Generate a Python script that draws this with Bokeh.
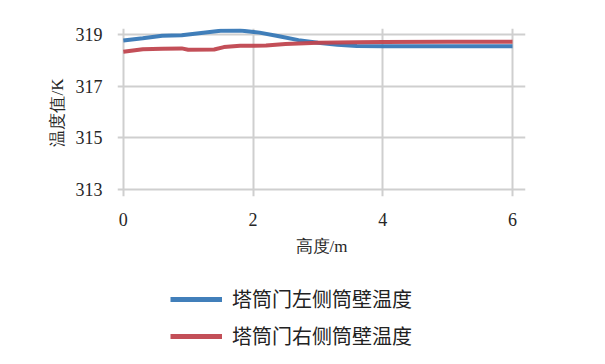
from bokeh.plotting import figure
from bokeh.layouts import column
from bokeh.models import Range1d, FixedTicker, Legend, LegendItem
from bokeh.embed import file_html
from bokeh.resources import INLINE

# Wall temperature along the tower height
height_left = [0, 0.3, 0.6, 0.9, 1.2, 1.5, 1.8, 2.1, 2.4, 2.7, 3.0, 3.3, 3.6, 4.0, 4.5, 5.0, 5.5, 6.0]
temp_left = [318.77, 318.85, 318.95, 318.97, 319.06, 319.14, 319.15, 319.07, 318.93, 318.78,
             318.68, 318.60, 318.55, 318.54, 318.54, 318.54, 318.54, 318.54]

height_right = [0, 0.3, 0.6, 0.9, 1.0, 1.4, 1.55, 1.8, 2.2, 2.5, 2.8, 3.0, 3.6, 4.0, 5.0, 6.0]
temp_right = [318.33, 318.43, 318.45, 318.46, 318.41, 318.42, 318.51, 318.56, 318.57, 318.63,
              318.66, 318.68, 318.70, 318.71, 318.72, 318.72]

x_ticks = [0, 2, 4, 6]
y_ticks = [313, 315, 317, 319]
series_names = ["塔筒门左侧筒壁温度", "塔筒门右侧筒壁温度"]
colors = ["#3778b6", "#c0464f"]

SERIF = "Times New Roman"

p = figure(width=605, height=270, output_backend="svg", toolbar_location=None,
           x_range=Range1d(-0.09, 6.2), y_range=Range1d(312.73, 319.23),
           min_border_left=117, min_border_right=80, min_border_top=28, min_border_bottom=74)
p.outline_line_color = None

for ax in (p.xaxis[0], p.yaxis[0]):
    ax.axis_line_color = None
    ax.major_tick_line_color = None
    ax.minor_tick_line_color = None
    ax.major_label_text_font = SERIF
    ax.major_label_text_font_size = "18px"
    ax.major_label_text_color = "#262626"
    ax.axis_label_text_font = SERIF
    ax.axis_label_text_font_size = "17px"
    ax.axis_label_text_font_style = "normal"
    ax.axis_label_text_color = "#262626"

p.xaxis.ticker = FixedTicker(ticks=x_ticks)
p.yaxis.ticker = FixedTicker(ticks=y_ticks)
p.xaxis.axis_label = "高度/m"
p.yaxis.axis_label = "温度值/K"
p.xaxis.major_label_standoff = 10
p.yaxis.major_label_standoff = 9
p.xaxis.axis_label_standoff = 8
p.yaxis.axis_label_standoff = 6

p.grid.grid_line_color = "#cfcfcf"
p.grid.grid_line_width = 2

p.line(height_left, temp_left, line_color=colors[0], line_width=4, line_alpha=0.95)
p.line(height_right, temp_right, line_color=colors[1], line_width=4, line_alpha=0.95)

# Legend panel underneath the chart; its key lines reuse the series (kept out of view)
lg = figure(width=605, height=94, output_backend="svg", toolbar_location=None,
            x_range=Range1d(100, 101), y_range=Range1d(0, 1),
            min_border_left=0, min_border_right=0, min_border_top=0, min_border_bottom=0)
lg.axis.visible = False
lg.grid.visible = False
lg.outline_line_color = None
k1 = lg.line(height_left, temp_left, line_color=colors[0], line_width=5, line_alpha=0.95)
k2 = lg.line(height_right, temp_right, line_color=colors[1], line_width=5, line_alpha=0.95)

legend = Legend(items=[LegendItem(label=series_names[0], renderers=[k1]),
                       LegendItem(label=series_names[1], renderers=[k2])],
                location=(53, 14), orientation="vertical",
                glyph_width=52, glyph_height=20, label_height=20,
                label_standoff=10, spacing=8, padding=0, margin=0,
                border_line_color=None, background_fill_alpha=0,
                label_text_font="Noto Sans CJK SC", label_text_font_size="20px",
                label_text_color="#222222")
lg.add_layout(legend, "center")

layout = column(p, lg, spacing=0)
open("out.html", "w").write(file_html(layout, INLINE))
